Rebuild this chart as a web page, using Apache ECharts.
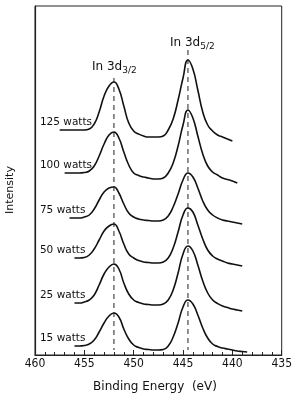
<!DOCTYPE html>
<html><head><meta charset="utf-8">
<script src="https://cdn.jsdelivr.net/npm/echarts@6/dist/echarts.min.js"></script>
<style>html,body{margin:0;padding:0;background:#fff}#c{width:295px;height:399px}</style>
</head><body><div id="c"></div>
<script>
// Binding energy grid (eV), 0.5 eV steps
const energy = [457.5, 457, 456.5, 456, 455.5, 455, 454.5, 454, 453.5, 453, 452.5, 452, 451.5, 451, 450.5, 450, 449.5, 449, 448.5, 448, 447.5, 447, 446.5, 446, 445.5, 445, 444.5, 444, 443.5, 443, 442.5, 442, 441.5, 441, 440.5, 440, 439.5, 439, 438.5];
// Intensity (arbitrary units, offsets as drawn)
const w125 = [225, 225, 225, 225, 225, 225, 226, 231, 243, 259, 269, 273, 266, 249, 232, 224, 221, 219, 218, 218, 218, 219, 225, 236, 255, 277, 295, 286, 265, 243, 230, 224, 220, 218, 216, 214, null, null, null];
const w100 = [null, 182, 182, 182, 182, 182.5, 184, 189, 199, 211, 220, 223, 217, 203, 190, 182, 179.5, 178, 177, 176, 176, 177, 182, 192, 209, 230, 245, 237, 219, 201, 189, 183, 180, 177, 175.5, 174, 172, null, null];
const w75  = [null, null, 137, 137, 137, 138, 140, 146, 155, 163, 167, 168, 162, 151, 142, 138, 136, 135, 134.5, 134, 134, 135, 139, 148, 161, 175, 182, 178, 167, 154, 145, 140, 137, 135, 134, 133, 132, 131, null];
const w50  = [null, null, null, 97, 97, 97.5, 100, 106, 115, 124, 129, 131, 124, 111, 101, 97, 94.5, 93, 92.5, 92, 92, 93, 97, 107, 123, 140, 147, 143, 130, 116, 105, 99, 96, 94, 92, 91, 90, 89, null];
const w25  = [null, null, null, 52, 52, 53, 55, 60, 70, 81, 88, 91, 86, 72, 61, 55, 52.5, 51, 50.5, 50, 50, 51, 55, 65, 82, 101, 109, 104, 90, 74, 62, 55, 51.5, 49, 47.5, 46, 45, 44, null];
const w15  = [null, null, null, 9, 9, 9.5, 11, 15, 23, 32, 39, 42, 38, 26, 16, 10, 7.5, 6, 5.5, 5, 5, 5.5, 9, 18, 32, 48, 55, 51, 40, 27, 17, 11, 8.5, 7, 6, 5, 4, 3.5, 3];
const powerLabels = ['125 watts', '100 watts', '75 watts', '50 watts', '25 watts', '15 watts'];
const spectra = [w125, w100, w75, w50, w25, w15];
// Peak reference lines
const peakEnergy = [452.0, 444.5];
const peakTop = [277, 305];
const peakSub = ['3/2', '5/2'];

const FONT = 'DejaVu Sans';
const TICKFONT = '"Liberation Sans Narrow", "DejaVu Sans Condensed", "DejaVu Sans"';
const chart = echarts.init(document.getElementById('c'), null, {renderer: 'canvas'});

const series = spectra.map((vals, k) => ({
  name: powerLabels[k],
  type: 'line',
  data: energy.map((e, i) => [e, vals[i]]).filter(p => p[1] !== null),
  symbol: 'none',
  smooth: 0.5,
  lineStyle: {color: '#111', width: 1.6},
  silent: true,
  animation: false
}));
peakEnergy.forEach((e, k) => {
  series.push({
    type: 'line',
    data: [[e, peakTop[k]], [e, 5]],
    symbol: 'none',
    lineStyle: {color: '#222', width: 1, type: [5, 4]},
    silent: true,
    animation: false
  });
});

chart.setOption({
  animation: false,
  backgroundColor: '#fff',
  grid: {left: 35, right: 12, top: 6, bottom: 44, show: true, borderColor: '#222', borderWidth: 1},
  xAxis: {
    type: 'value', min: 435, max: 460, interval: 5, inverse: true,
    axisLine: {show: true, lineStyle: {color: '#222', width: 1.2}},
    axisTick: {show: true, inside: true, length: 5, lineStyle: {color: '#222'}},
    minorTick: {show: true, splitNumber: 5, length: 3, lineStyle: {color: '#222'}},
    splitLine: {show: false},
    axisLabel: {fontFamily: TICKFONT, fontSize: 12, color: '#111', margin: 3}
  },
  yAxis: {
    type: 'value', min: 0, max: 349,
    axisLine: {show: true, lineStyle: {color: '#222', width: 1.2}},
    axisTick: {show: false}, axisLabel: {show: false}, splitLine: {show: false}
  },
  series: series
});

const graphic = [];
spectra.forEach((vals, k) => {
  const first = vals.find(v => v !== null);
  const p = chart.convertToPixel({gridIndex: 0}, [459.5, first]);
  graphic.push({type: 'text', left: p[0], top: p[1] - 13, silent: true,
    style: {text: powerLabels[k], fontFamily: FONT, fontSize: 10.5, fill: '#111'}});
});
peakEnergy.forEach((e, k) => {
  const p = chart.convertToPixel({gridIndex: 0}, [e, peakTop[k]]);
  graphic.push({type: 'text', x: p[0] - (k === 0 ? 22 : 18), y: p[1] - (k === 0 ? 20 : 16), silent: true,
    style: {text: '{m|In 3d}{s|' + peakSub[k] + '}', fill: '#111',
      rich: {m: {fontFamily: FONT, fontSize: 12, lineHeight: 17, verticalAlign: 'middle', fill: '#111'},
             s: {fontFamily: FONT, fontSize: 9, lineHeight: 9, verticalAlign: 'bottom', fill: '#111'}}}});
});
graphic.push({type: 'text', x: 155, y: 387, silent: true,
  style: {text: 'Binding Energy  (eV)', fontFamily: FONT, fontSize: 12, fill: '#111', align: 'center', verticalAlign: 'middle'}});
graphic.push({type: 'text', x: 10, y: 190, rotation: Math.PI / 2, silent: true,
  style: {text: 'Intensity', fontFamily: FONT, fontSize: 11, fill: '#111', align: 'center', verticalAlign: 'middle'}});
chart.setOption({graphic: graphic});
</script>
</body></html>
